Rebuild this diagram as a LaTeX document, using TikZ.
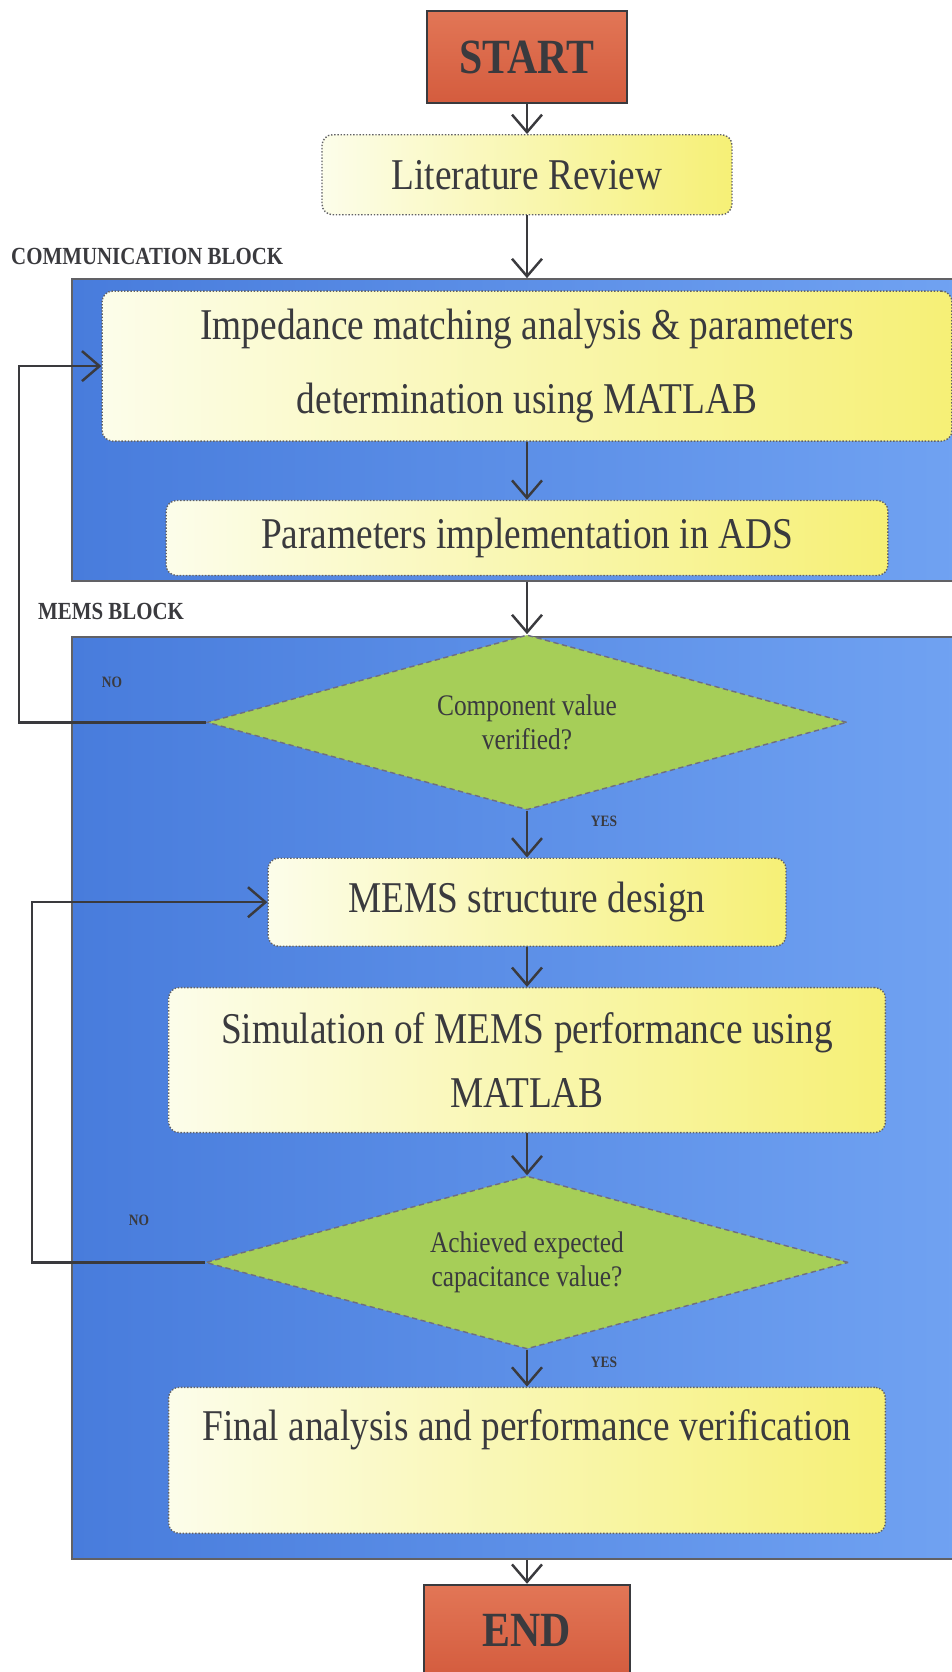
\documentclass[tikz,border=0pt]{standalone}
\usepackage{fontspec}
\setmainfont{Liberation Serif}[FakeStretch=0.85]
\usetikzlibrary{shapes.geometric, arrows.meta, positioning}
\definecolor{flowred}{RGB}{212, 92, 62}
\definecolor{flowredlight}{RGB}{226, 118, 86}
\definecolor{flowblue}{RGB}{72, 124, 220}
\definecolor{flowbluelight}{RGB}{112, 162, 242}
\definecolor{boxcream}{RGB}{252, 253, 234}
\definecolor{boxyellow}{RGB}{246, 240, 118}
\definecolor{flowgreen}{RGB}{166, 206, 88}
\definecolor{flowdark}{RGB}{58, 58, 62}
\definecolor{flowedge}{RGB}{110, 110, 130}

\begin{document}
\begin{tikzpicture}[
  x=0.02cm, y=-0.02cm,
  terminal/.style={rectangle, draw=flowdark, line width=1.2pt, top color=flowredlight,
                   bottom color=flowred, minimum width=4cm, minimum height=1.84cm,
                   font=\fontsize{28}{32}\selectfont\bfseries, text=flowdark},
  box/.style={rectangle, rounded corners=6pt, draw=flowdark!80, densely dotted, line width=0.8pt,
              left color=boxcream, right color=boxyellow, align=center, text=flowdark,
              font=\fontsize{25}{30}\selectfont},
  decision/.style={diamond, aspect=3.7, draw=flowedge, densely dashed, line width=0.8pt, fill=flowgreen,
                   inner sep=0pt, align=center, text=flowdark, font=\fontsize{17}{19}\selectfont},
  block/.style={rectangle, draw=flowdark!80, line width=1pt, left color=flowblue,
                right color=flowbluelight, inner sep=0pt},
  tag/.style={font=\fontsize{14}{16}\selectfont\bfseries, text=flowdark},
  answer/.style={font=\fontsize{9}{11}\selectfont\bfseries, text=flowdark},
  arrow/.style={-{Straight Barb[length=3.5mm,width=6mm]}, line width=1.4pt, color=flowdark},
]
  \useasboundingbox (0,0) rectangle (952,1672);

  % the two blue blocks behind the steps
  \node[block, minimum width=17.76cm, minimum height=6.04cm] (comm) at (516,430) {};
  \node[block, minimum width=17.76cm, minimum height=18.44cm] (mems) at (516,1098) {};

  \node[terminal] (start) at (527,57) {START};
  \node[box, minimum width=8.2cm, minimum height=1.6cm, below=0.6cm of start] (lit) {Literature Review};
  \node[box, minimum width=17cm, minimum height=3cm, below=1.5cm of lit] (imp)
    {Impedance matching analysis \& parameters\\[12pt] determination using MATLAB};
  \node[box, minimum width=14.44cm, minimum height=1.5cm, below=1.16cm of imp] (param)
    {Parameters implementation in ADS};
  \node[decision, minimum width=12.8cm, minimum height=3.5cm, below=1.16cm of param] (check1)
    {Component value\\verified?};
  \node[box, minimum width=10.36cm, minimum height=1.76cm, below=0.94cm of check1] (design)
    {MEMS structure design};
  \node[box, minimum width=14.34cm, minimum height=2.9cm, below=0.8cm of design] (sim)
    {Simulation of MEMS performance using\\[6pt] MATLAB};
  \node[decision, minimum width=12.86cm, minimum height=3.46cm, below=0.84cm of sim] (check2)
    {Achieved expected\\capacitance value?};
  \node[box, minimum width=14.34cm, inner sep=0.2cm, text height=0.86cm, text depth=1.66cm,
        below=0.74cm of check2] (final) {Final analysis and performance verification};
  \node[terminal, minimum width=4.12cm, below=0.48cm of final |- mems.south] (end) {END};

  \node[tag, anchor=west] (commtag) at (5,256) {COMMUNICATION BLOCK};
  \node[tag, anchor=west] (memstag) at (32,611) {MEMS BLOCK};
  \node[answer] (noone) at (112,682) {NO};
  \node[answer] (yesone) at (604,821) {YES};
  \node[answer] (notwo) at (139,1220) {NO};
  \node[answer] (yestwo) at (604,1362) {YES};

  \coordinate (loopone) at (19,0);
  \coordinate (looptwo) at (32,0);

  \draw[arrow] (start) -- (lit);
  \draw[arrow] (lit) -- (lit |- comm.north);
  \draw[arrow] (imp) -- (param);
  \draw[arrow] (param |- comm.south) -- (check1);
  \draw[arrow] (check1) -- (design);
  \draw[arrow] (design) -- (sim);
  \draw[arrow] (sim) -- (check2);
  \draw[arrow] (check2) -- (final);
  \draw[arrow] (final |- mems.south) -- (end);
  \draw[arrow] (check1.west) -- (check1.west -| loopone) |- (imp.west);
  \draw[arrow] (check2.west) -- (check2.west -| looptwo) |- (design.west);
\end{tikzpicture}
\end{document}
